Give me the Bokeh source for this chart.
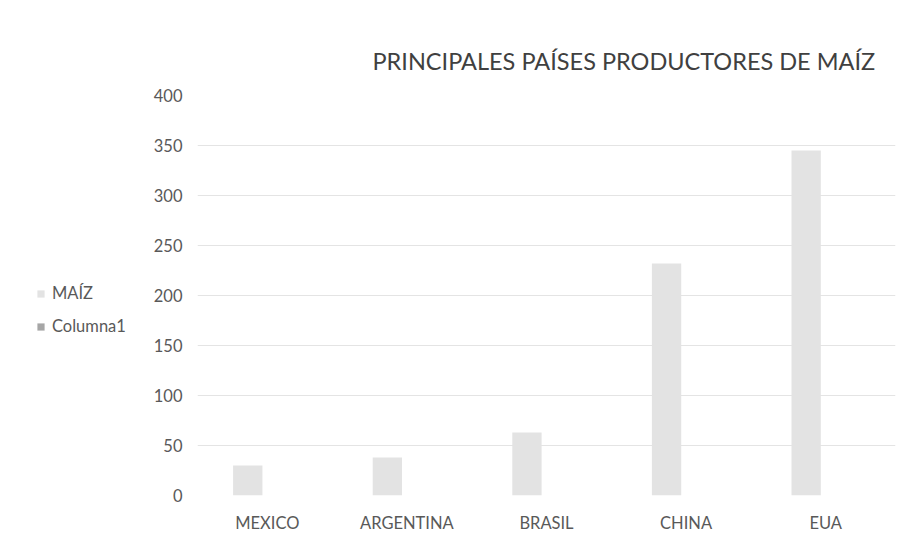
from bokeh.plotting import figure
from bokeh.layouts import row
from bokeh.models import ColumnDataSource, Legend, LegendItem, FactorRange, FixedTicker, Range1d
from bokeh.transform import dodge
from bokeh.embed import file_html
from bokeh.resources import INLINE

# ---- data ----
countries = ["MEXICO", "ARGENTINA", "BRASIL", "CHINA", "EUA"]
maiz = [30, 38, 63, 232, 345]
columna1 = [float("nan")] * 5
y_ticks = [0, 50, 100, 150, 200, 250, 300, 350, 400]
title_text = "PRINCIPALES PAÍSES PRODUCTORES DE MAÍZ"
series_names = ["MAÍZ", "Columna1"]
series_colors = ["#e3e3e3", "#a6a6a6"]

FONT = "Lato"

src = ColumnDataSource(dict(country=countries, maiz=maiz, col1=columna1))

p = figure(
    frame_width=698, frame_height=400,
    x_range=FactorRange(*countries, range_padding=0),
    y_range=(0, 400),
    output_backend="svg", toolbar_location=None,
    min_border_left=47, min_border_right=5,
    min_border_top=95, min_border_bottom=39,
)
p.outline_line_color = None
p.background_fill_color = "white"
p.border_fill_color = "white"

r1 = p.vbar(x=dodge("country", -0.14, range=p.x_range), top="maiz", width=0.21,
            source=src, fill_color=series_colors[0], line_color=None)
r2 = p.vbar(x=dodge("country", 0.14, range=p.x_range), top="col1", width=0.21,
            source=src, fill_color=series_colors[1], line_color=None)

# title
p.title.text = title_text
p.title.text_font = FONT
p.title.text_font_size = "23.5px"
p.title.text_font_style = "normal"
p.title.text_color = "#404040"
p.title.align = "left"
p.title.offset = 175
p.title.standoff = 42

# axes
p.yaxis.ticker = FixedTicker(ticks=y_ticks)
for ax in (p.xaxis[0], p.yaxis[0]):
    ax.axis_line_color = None
    ax.major_tick_line_color = None
    ax.minor_tick_line_color = None
    ax.major_label_text_font = FONT
    ax.major_label_text_font_size = "16.5px"
    ax.major_label_text_color = "#595959"
p.yaxis.major_label_standoff = 9
p.xaxis.major_label_standoff = 11

p.xgrid.grid_line_color = None
p.ygrid.grid_line_color = "#e4e4e4"
p.ygrid.grid_line_width = 1

# legend lives in a narrow companion figure on the left
lf = figure(
    width=150, height=534,
    x_range=Range1d(0, 1), y_range=Range1d(0, 1),
    x_axis_type=None, y_axis_type=None,
    output_backend="svg", toolbar_location=None,
    min_border=0,
)
lf.outline_line_color = None
lf.xgrid.grid_line_color = None
lf.ygrid.grid_line_color = None
lf.border_fill_color = "white"
legend_src = ColumnDataSource(dict(x=[float("nan")], top=[float("nan")]))
l1 = lf.vbar(x="x", top="top", width=0.1, source=legend_src,
             fill_color=series_colors[0], line_color=None)
l2 = lf.vbar(x="x", top="top", width=0.1, source=legend_src,
             fill_color=series_colors[1], line_color=None)

legend = Legend(
    items=[LegendItem(label=series_names[0], renderers=[l1]),
           LegendItem(label=series_names[1], renderers=[l2])],
    location=(36, 158),
    orientation="vertical",
    border_line_color=None,
    background_fill_alpha=0,
    padding=0, margin=0, spacing=13,
    glyph_width=9, glyph_height=9,
    label_standoff=7, label_height=20,
    label_text_font=FONT, label_text_font_size="16.5px",
    label_text_color="#595959",
)
lf.add_layout(legend, "center")

layout = row(lf, p)
open("out.html", "w").write(file_html(layout, INLINE))
